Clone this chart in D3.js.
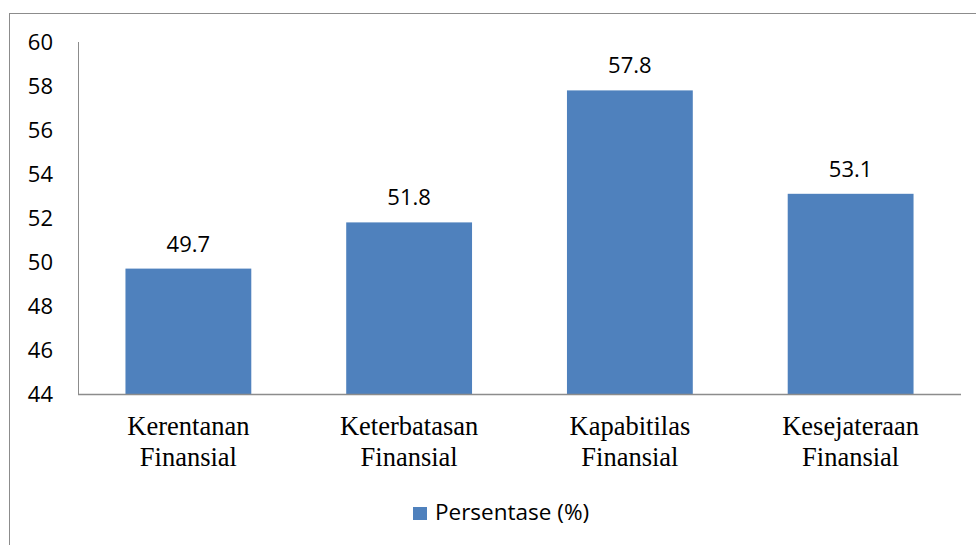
<!DOCTYPE html>
<html lang="en">
<head>
    <meta charset="utf-8">
    <title>Persentase</title>
    <style>
        body { margin: 0; background: #fff; }
        .num { font-family: "Open Sans", "Liberation Sans", sans-serif; fill: #000; }
        .cat { font-family: "Liberation Serif", "Times New Roman", serif; fill: #000; }
    </style>
</head>
<body>
    <svg class="chart"></svg>

    <script src="https://d3js.org/d3.v7.min.js"></script>
    <script>
        var categories = [["Kerentanan", "Finansial"], ["Keterbatasan", "Finansial"], ["Kapabitilas", "Finansial"], ["Kesejateraan", "Finansial"]];
        var values = [49.7, 51.8, 57.8, 53.1];
        var yTicks = [44, 46, 48, 50, 52, 54, 56, 58, 60];
        var seriesName = "Persentase (%)";

        var width = 976,
            height = 545;

        var svg = d3.select(".chart")
            .attr("width", width)
            .attr("height", height);

        // outer chart border, runs off the right and bottom edges
        svg.append("rect")
            .attr("x", 9.5).attr("y", 13.5)
            .attr("width", 1000).attr("height", 600)
            .attr("fill", "none")
            .attr("stroke", "#8c8c8c");

        var x = d3.scaleBand()
            .domain(d3.range(values.length))
            .range([78, 961])
            .paddingInner(0.43)
            .paddingOuter(0.215);

        var y = d3.scaleLinear()
            .domain([44, 60])
            .range([394, 42]);

        // y tick labels
        svg.selectAll(".ytick")
            .data(yTicks)
            .enter().append("text")
            .attr("class", "num")
            .attr("x", 53)
            .attr("y", function(d) { return y(d); })
            .attr("dy", "0.35em")
            .attr("text-anchor", "end")
            .style("font-size", "22px")
            .text(function(d) { return d; });

        svg.selectAll(".bar")
            .data(values)
            .enter().append("rect")
            .attr("x", function(d, i) { return x(i); })
            .attr("y", function(d) { return y(d); })
            .attr("width", x.bandwidth())
            .attr("height", function(d) { return y(44) - y(d); })
            .attr("fill", "#4f81bd");

        // data labels
        svg.selectAll(".lbl")
            .data(values)
            .enter().append("text")
            .attr("class", "num")
            .attr("x", function(d, i) { return x(i) + x.bandwidth() / 2; })
            .attr("y", function(d) { return y(d) - 17; })
            .attr("text-anchor", "middle")
            .style("font-size", "22px")
            .text(function(d) { return d.toFixed(1); });

        // axes lines
        svg.append("line")
            .attr("x1", 78.5).attr("x2", 78.5)
            .attr("y1", y(60)).attr("y2", y(44))
            .attr("stroke", "#8c8c8c");
        svg.append("line")
            .attr("x1", 78).attr("x2", 961)
            .attr("y1", y(44) + 0.5).attr("y2", y(44) + 0.5)
            .attr("stroke", "#8c8c8c")
            .attr("stroke-width", 1.5);

        // category labels, two lines each
        var cat = svg.selectAll(".cat")
            .data(categories)
            .enter().append("text")
            .attr("class", "cat")
            .attr("text-anchor", "middle")
            .style("font-size", "26.5px");
        cat.selectAll("tspan")
            .data(function(d, i) { return d.map(function(s) { return {s: s, i: i}; }); })
            .enter().append("tspan")
            .attr("x", function(d) { return x(d.i) + x.bandwidth() / 2; })
            .attr("y", function(d, j) { return 435 + j * 31; })
            .text(function(d) { return d.s; });

        // legend
        svg.append("rect")
            .attr("x", 413).attr("y", 507)
            .attr("width", 14).attr("height", 13)
            .attr("fill", "#4f81bd");
        svg.append("text")
            .attr("class", "num")
            .attr("x", 435).attr("y", 520)
            .style("font-size", "22.5px")
            .text(seriesName);
    </script>
</body>
</html>
